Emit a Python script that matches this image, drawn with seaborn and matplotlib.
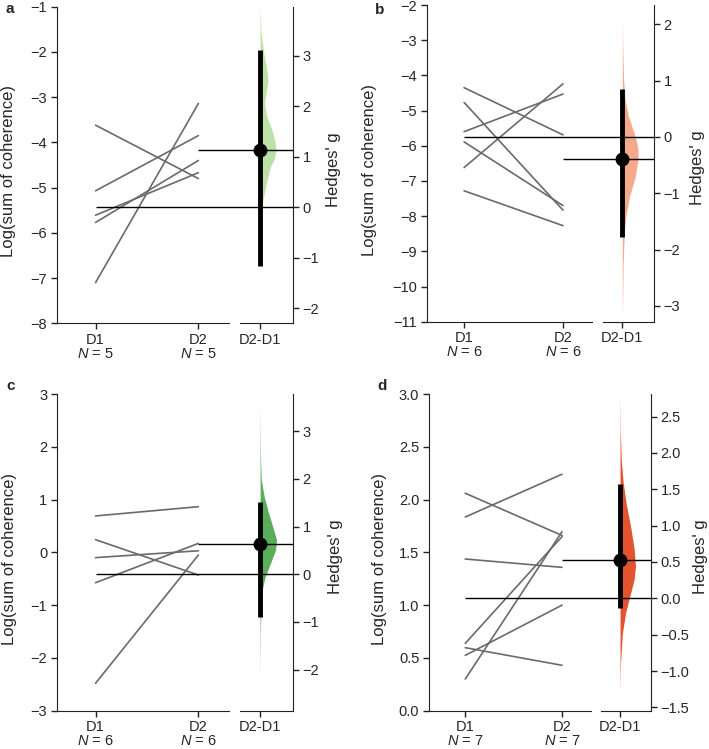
import numpy as np
import pandas as pd
import matplotlib
matplotlib.use("Agg")
import matplotlib.pyplot as plt
import seaborn as sns

# ---- data ----
groups = ["D1", "D2"]
diff_label = "D2-D1"
panel_ids = ["a", "b", "c", "d"]

a_d1 = [-3.62, -5.07, -5.61, -5.77, -7.10]
a_d2 = [-4.80, -3.85, -4.67, -4.40, -3.14]
b_d1 = [-4.35, -4.77, -5.60, -5.89, -6.62, -7.28]
b_d2 = [-5.69, -7.83, -4.53, -7.70, -4.24, -8.27]
c_d1 = [0.69, 0.24, -0.10, -0.575, -2.48]
c_d2 = [0.865, -0.43, 0.03, 0.17, -0.05]
d_d1 = [2.06, 1.835, 1.437, 0.638, 0.597, 0.524, 0.30]
d_d2 = [1.66, 2.24, 1.358, 1.649, 0.43, 1.0, 1.696]
n_sizes = [5, 6, 6, 7]

# Hedges' g and 95% CI
hedges_g = [1.135, -0.396, 0.635, 0.53]
ci_low = [-1.175, -1.77, -0.90, -0.14]
ci_high = [3.12, 0.846, 1.52, 1.57]

# bootstrap distribution outlines (g value, relative width)
a_dist_g = [3.97, 3.45, 3.0, 2.75, 2.52, 2.3, 2.06, 1.8, 1.55, 1.33, 1.13, 0.95, 0.8, 0.47, 0.14, -0.05, -0.2]
a_dist_w = [0.0, 0.06, 0.25, 0.4, 0.48, 0.38, 0.27, 0.4, 0.7, 0.88, 0.98, 0.85, 0.63, 0.37, 0.17, 0.05, 0.0]
b_dist_g = [2.1, 1.5, 1.0, 0.66, 0.36, 0.065, -0.17, -0.35, -0.41, -0.70, -1.06, -1.41, -1.7, -2.3, -2.9, -3.2]
b_dist_w = [0.0, 0.03, 0.08, 0.17, 0.39, 0.75, 0.97, 1.0, 0.98, 0.82, 0.45, 0.22, 0.12, 0.05, 0.02, 0.0]
c_dist_g = [3.61, 3.0, 2.4, 1.98, 1.63, 1.28, 0.93, 0.72, 0.51, 0.23, -0.05, -0.26, -0.6, -1.2, -2.18]
c_dist_w = [0.0, 0.01, 0.03, 0.07, 0.25, 0.52, 0.83, 1.0, 0.94, 0.63, 0.31, 0.17, 0.06, 0.02, 0.0]
d_dist_g = [2.81, 2.3, 1.9, 1.6, 1.3, 0.99, 0.7, 0.44, 0.25, 0.07, -0.2, -0.48, -0.9, -1.28]
d_dist_w = [0.0, 0.02, 0.08, 0.2, 0.4, 0.68, 0.9, 1.0, 0.9, 0.68, 0.36, 0.15, 0.03, 0.0]

left_lims = [(-8, -1), (-11, -2), (-3, 3), (0, 3)]
right_lims = [(-2.30, 3.97), (-3.28, 2.34), (-2.86, 3.78), (-1.546, 2.81)]
left_ticks = [np.arange(-8, 0), np.arange(-11, -1), np.arange(-3, 4), np.arange(0, 3.01, 0.5)]
right_ticks = [np.arange(-2, 4), np.arange(-3, 3), np.arange(-2, 4), np.arange(-1.5, 2.6, 0.5)]
dist_colors = ["#bde0a6", "#f5a98b", "#5aad5a", "#e4532f"]

# ---- style ----
sns.set_style("ticks")
plt.rcParams['font.family'] = ['Liberation Sans', 'DejaVu Sans']
plt.rcParams['mathtext.fontset'] = 'custom'
plt.rcParams['mathtext.it'] = 'Liberation Sans:italic'
plt.rcParams['mathtext.rm'] = 'Liberation Sans'

W, H = 709, 749
fig = plt.figure(figsize=(W / 100, H / 100), dpi=100)


def box(l, r, t, b):
    return [l / W, 1 - b / H, (r - l) / W, (b - t) / H]


def fmt(v, dec):
    s = f"{abs(v):.{dec}f}"
    return "\u2212" + s if v < 0 else s


boxes = [box(57, 293, 6.7, 323.3), box(427, 654, 5, 321.7),
         box(57, 293, 394, 710.7), box(429, 651, 394, 710.7)]
ylabel_x = [-0.172, -0.22, -0.168, -0.19]
glabel_x = [1.138, 1.16, 1.148, 1.19]
letter_pos = [(5, 9), (375, 10), (6, 386), (377, 386)]

pairs = [(a_d1, a_d2), (b_d1, b_d2), (c_d1, c_d2), (d_d1, d_d2)]
dists = [(a_dist_g, a_dist_w), (b_dist_g, b_dist_w), (c_dist_g, c_dist_w), (d_dist_g, d_dist_w)]

xmin, xmax = -0.375, 1.92
diff_x = 1.6
dist_scale = 0.16
ink = "#222222"

for i in range(4):
    ax = fig.add_axes(boxes[i])
    d1, d2 = pairs[i]
    df = pd.DataFrame({
        "pair": list(range(len(d1))) * 2,
        "x": [0] * len(d1) + [1] * len(d2),
        "value": list(d1) + list(d2),
    })
    sns.lineplot(data=df, x="x", y="value", units="pair", estimator=None,
                 color="#6a6a6a", lw=1.2, ax=ax, legend=False)
    ax.set_xlim(xmin, xmax)
    ax.set_ylim(*left_lims[i])
    dec = 1 if i == 3 else 0
    ax.set_yticks(left_ticks[i])
    ax.set_yticklabels([fmt(v, dec) for v in left_ticks[i]])
    n = n_sizes[i]
    ax.set_xticks([0, 1, diff_x])
    ax.set_xticklabels([f"{groups[0]}\n$\\it{{N}}$ = {n}", f"{groups[1]}\n$\\it{{N}}$ = {n}", diff_label],
                       va="top", linespacing=1.0)
    ax.set_xlabel("")
    ax.set_ylabel("Log(sum of coherence)", fontsize=12)
    ax.yaxis.set_label_coords(ylabel_x[i], 0.48)
    ax.tick_params(labelsize=10.5, length=4, width=1, color=ink, pad=3)
    for s in ["top", "right"]:
        ax.spines[s].set_visible(False)
    ax.spines["left"].set_color(ink)
    ax.spines["bottom"].set_color(ink)
    ax.spines["bottom"].set_bounds(xmin, 1.295)

    ax2 = ax.twinx()
    ax2.set_xlim(xmin, xmax)
    ax2.set_ylim(*right_lims[i])
    ax2.set_yticks(right_ticks[i])
    ax2.set_yticklabels([fmt(v, dec) for v in right_ticks[i]])
    ax2.tick_params(labelsize=10.5, length=4, width=1, color=ink, pad=3)
    ax2.spines["top"].set_visible(False)
    ax2.spines["left"].set_visible(False)
    ax2.spines["right"].set_color(ink)
    ax2.spines["bottom"].set_color(ink)
    ax2.spines["bottom"].set_bounds(1.40, xmax)
    ax2.set_ylabel("Hedges' g", fontsize=12)
    ax2.yaxis.set_label_coords(glabel_x[i], 0.485)

    # bootstrap distribution
    gg, ww = dists[i]
    gfine = np.linspace(min(gg), max(gg), 300)
    wfine = np.interp(gfine, gg[::-1], ww[::-1])
    ax2.fill_betweenx(gfine, diff_x, diff_x + wfine * dist_scale,
                      color=dist_colors[i], lw=0, zorder=1)

    # reference lines
    ax2.hlines(0, 0, xmax, color="black", lw=1.0, zorder=2)
    ax2.hlines(hedges_g[i], 1, xmax, color="black", lw=1.0, zorder=2)
    # CI and point estimate
    ax2.vlines(diff_x, ci_low[i], ci_high[i], color="black", lw=3.5, zorder=3)
    ax2.plot([diff_x], [hedges_g[i]], "o", color="black", ms=9, zorder=4)

    fig.text(letter_pos[i][0] / W, 1 - letter_pos[i][1] / H, panel_ids[i],
             fontsize=11, fontweight="bold", va="center", ha="left")

fig.savefig("out.png", dpi=100)
